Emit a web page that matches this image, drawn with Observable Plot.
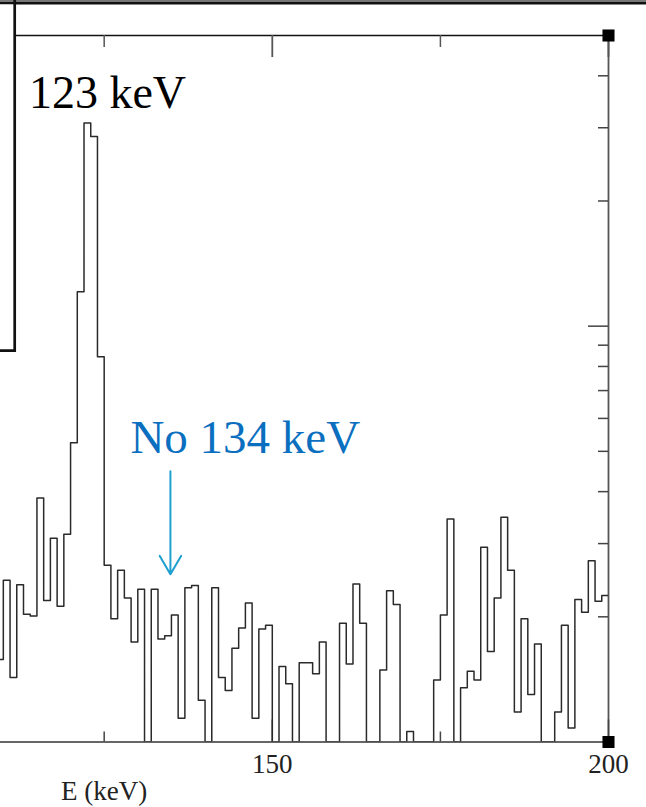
<!DOCTYPE html>
<html>
<head>
<meta charset="utf-8">
<script src="https://cdn.jsdelivr.net/npm/d3@7"></script>
<script src="https://cdn.jsdelivr.net/npm/@observablehq/plot@0.6"></script>
<style>
  html, body { margin: 0; padding: 0; background: #fff; overflow: hidden; }
  #chart { width: 646px; height: 807px; position: relative; }
</style>
</head>
<body>
<div id="chart"></div>
<script>
// ---- data (1 keV bins, lower edge in keV) ----
const binStart = [109,110,111,112,113,114,115,116,117,118,119,120,121,122,123,124,125,126,127,128,129,
  130,131,132,133,134,135,136,137,138,139,140,141,142,143,144,145,146,147,148,149,
  150,151,152,153,154,155,156,157,158,159,160,161,162,163,164,165,166,167,168,169,
  170,171,172,173,174,175,176,177,178,179,180,181,182,183,184,185,186,187,188,189,
  190,191,192,193,194,195,196,197,198,199];
const counts = [1.58,2.45,1.43,2.39,2.03,2.01,3.86,2.19,3.09,2.12,3.16,5.24,12.1,30.8,28.6,8.44,2.66,1.98,2.59,2.22,1.74,
  2.33,0,2.33,1.77,1.80,2.02,1.14,2.35,2.38,1.26,0,2.35,1.43,1.33,1.68,1.88,2.16,1.14,1.87,1.91,
  0,1.52,1.38,0,1.55,1.55,1.46,1.74,0,0,1.93,1.54,2.40,1.93,0,0,1.49,2.31,2.14,0,
  1.06,0,0,0,1.41,2.02,3.44,0,1.35,1.48,1.41,2.94,1.65,2.22,3.47,2.59,1.18,1.98,1.30,1.72,
  0,0,1.18,1.91,1.08,2.20,2.05,2.73,2.18,2.25];
const xTicksMajor = [150, 200];
const xTicksMinor = [125, 175];
const yTicksMajor = [10];
const yTicksMinor = [2, 3, 4, 5, 6, 7, 8, 9, 20, 30, 40];
const axisTitle = [{x: 125, label: "E (keV)"}];
const peakLabel = [{x: 113.8, y: 33.5, label: "123 keV"}];
const missingLabel = [{x: 128.9, y: 4.96, label: "No 134 keV"}];
const missingArrow = [{x: 134.85, y1: 4.48, y2: 2.53}];
const corners = [{x: 200, y: 50}, {x: 200, y: 1}];

// ---- layout ----
const W = 646, H = 807;
const mL = 0, mR = 38, mT = 35, mB = 65.5;
const innerW = W - mL - mR, innerH = H - mT - mB;
const serif = "'Liberation Serif', 'Times New Roman', serif";

const rows = binStart.map((e, i) => ({e, v: counts[i]}));
rows.push({e: 200, v: counts[counts.length - 1]});

const plot = Plot.plot({
  width: W, height: H,
  marginLeft: mL, marginRight: mR, marginTop: mT, marginBottom: mB,
  x: {domain: [109.58, 200], axis: null},
  y: {type: "log", domain: [1, 50], axis: null},
  style: {fontFamily: serif, background: "white"},
  marks: [
    Plot.frame({anchor: "top", stroke: "#111", strokeWidth: 1.5}),
    Plot.frame({anchor: "bottom", stroke: "#333", strokeWidth: 1.5}),
    Plot.frame({anchor: "right", stroke: "#555", strokeWidth: 1.8}),
    Plot.tickX(xTicksMinor, {x: d => d, insetTop: innerH - 10, stroke: "#444", strokeWidth: 1.5}),
    Plot.tickX(xTicksMajor, {x: d => d, insetTop: innerH - 22, stroke: "#444", strokeWidth: 1.5}),
    Plot.tickX(xTicksMinor, {x: d => d, insetBottom: innerH - 12, stroke: "#555", strokeWidth: 1.5}),
    Plot.tickX(xTicksMajor, {x: d => d, insetBottom: innerH - 22, stroke: "#555", strokeWidth: 1.8}),
    Plot.tickY(yTicksMinor, {y: d => d, insetLeft: innerW - 10, stroke: "#444", strokeWidth: 1.5}),
    Plot.tickY(yTicksMajor, {y: d => d, insetLeft: innerW - 20, stroke: "#444", strokeWidth: 1.5}),
    Plot.line(rows, {x: "e", y: d => (d.v > 0 ? d.v : 1), curve: "step-after",
      stroke: "#2a2a2a", strokeWidth: 1.5, clip: true}),
    Plot.text(xTicksMajor, {x: d => d, frameAnchor: "bottom", dy: 31, lineAnchor: "bottom",
      text: d => String(d), fontSize: 27, fill: "#222"}),
    Plot.text(axisTitle, {x: "x", frameAnchor: "bottom", dy: 57.5, lineAnchor: "bottom",
      text: "label", fontSize: 27, fill: "#222"}),
    Plot.text(peakLabel, {x: "x", y: "y", text: "label", textAnchor: "start", lineAnchor: "bottom",
      fontSize: 46, fill: "#000"}),
    Plot.text(missingLabel, {x: "x", y: "y", text: "label", textAnchor: "start", lineAnchor: "bottom",
      fontSize: 47, fill: "#0a6fbf"}),
    Plot.arrow(missingArrow, {x: "x", y1: "y1", y2: "y2", stroke: "#1f9fd0", strokeWidth: 2,
      headLength: 16, headAngle: 60}),
    Plot.dot(corners, {x: "x", y: "y", symbol: "square", r: 6.8, fill: "#000", stroke: "none"})
  ]
});

// ---- outer figure decorations (edge of an overlapping panel) ----
const svg = d3.select(plot);
svg.append("rect").attr("x", 0).attr("y", 0).attr("width", W).attr("height", 4.5).attr("fill", "#111");
svg.append("rect").attr("x", 0).attr("y", 0).attr("width", W).attr("height", 2).attr("fill", "#777");
svg.append("rect").attr("x", -5).attr("y", 4.5).attr("width", 19.7).attr("height", 346.2).attr("fill", "white");
svg.append("path").attr("d", "M-5,350.7H14.7V0").attr("fill", "none")
  .attr("stroke", "#111").attr("stroke-width", 2.7);

document.getElementById("chart").appendChild(plot);
</script>
</body>
</html>
